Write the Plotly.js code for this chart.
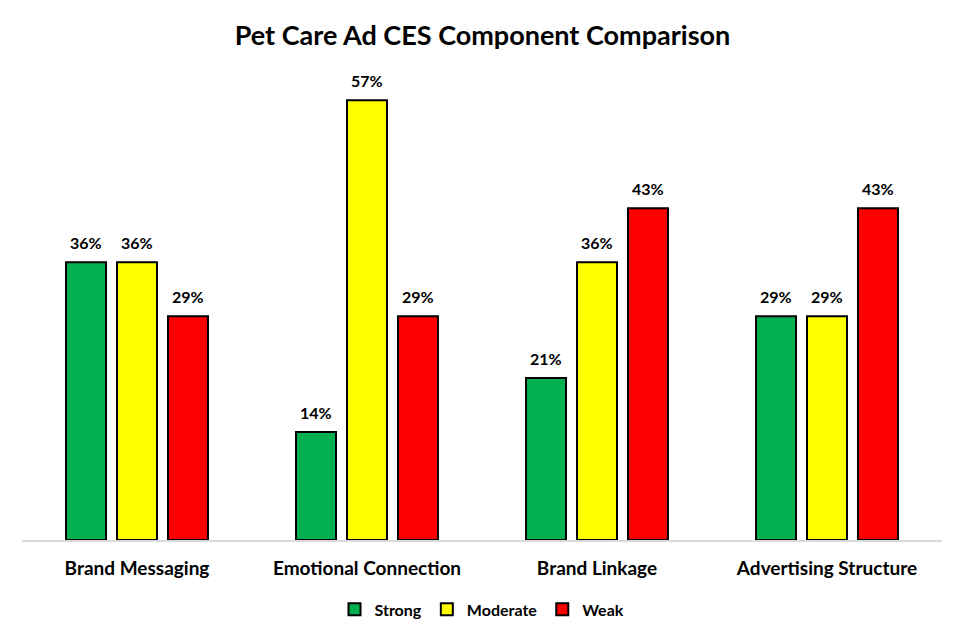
<!DOCTYPE html>
<html>
<head>
<meta charset="utf-8">
<script src="https://cdn.plot.ly/plotly-3.0.1.min.js"></script>
<style>
  html, body { margin: 0; padding: 0; background: #fff; }
  #chart { width: 965px; height: 640px; }
</style>
</head>
<body>
<div id="chart"></div>
<script>
// chart data
var categories = ["Brand Messaging", "Emotional Connection", "Brand Linkage", "Advertising Structure"];
var strong = [36, 14, 21, 29];
var moderate = [36, 57, 36, 29];
var weak = [29, 29, 43, 43];
var series_names = ["Strong", "Moderate", "Weak"];
var series_colors = ["#00B050", "#FFFF00", "#FF0000"];

var font_fam = "Lato, 'Open Sans', sans-serif";
var W = 965, H = 640;
var margin = { l: 22, r: 23, t: 77, b: 100 };
var bargap = 0.335;

function make_trace(name, values, color) {
    return {
        x: categories,
        y: values,
        name: name,
        type: 'bar',
        marker: {
            color: color,
            line: { color: '#000000', width: 2 }
        },
        hoverinfo: 'x+y'
    };
}

var all_series = [strong, moderate, weak];
var data = all_series.map(function (vals, i) {
    return make_trace(series_names[i], vals, series_colors[i]);
});

// value labels above bars, shifted to each bar's slot in the group
var cat_px = (W - margin.l - margin.r) / categories.length;
var slot_px = cat_px * (1 - bargap) / all_series.length;
var annotations = [];
all_series.forEach(function (vals, si) {
    vals.forEach(function (v, ci) {
        annotations.push({
            x: categories[ci],
            y: v,
            xref: 'x',
            yref: 'y',
            text: v + "%",
            showarrow: false,
            yanchor: 'bottom',
            yshift: 8,
            xshift: (si - (all_series.length - 1) / 2) * slot_px,
            font: { family: font_fam, size: 16, color: '#000000', weight: 'bold' }
        });
    });
});

var layout = {
    width: W,
    height: H,
    margin: margin,
    paper_bgcolor: '#ffffff',
    plot_bgcolor: '#ffffff',
    font: { family: font_fam, color: '#000000' },
    title: {
        text: "Pet Care Ad CES Component Comparison",
        font: { family: font_fam, size: 27, color: '#000000', weight: 'bold' },
        x: 0.5,
        xanchor: 'center',
        y: 0.945,
        yanchor: 'middle'
    },
    barmode: 'group',
    bargap: bargap,
    bargroupgap: 0.216,
    showlegend: true,
    legend: {
        orientation: 'h',
        x: 0.5,
        xanchor: 'center',
        y: -0.15,
        yanchor: 'middle',
        font: { family: font_fam, size: 16, color: '#000000', weight: 'bold' },
        itemwidth: 30,
        traceorder: 'normal'
    },
    annotations: annotations,
    xaxis: {
        showline: true,
        linecolor: '#d9d9d9',
        linewidth: 2,
        ticks: '',
        ticklabelstandoff: 10,
        tickfont: { family: font_fam, size: 19, color: '#000000', weight: 'bold' },
        fixedrange: true
    },
    yaxis: {
        range: [0, 60],
        visible: false,
        showgrid: false,
        zeroline: false,
        fixedrange: true
    }
};

Plotly.newPlot('chart', data, layout, { staticPlot: true, responsive: false });
</script>
</body>
</html>
